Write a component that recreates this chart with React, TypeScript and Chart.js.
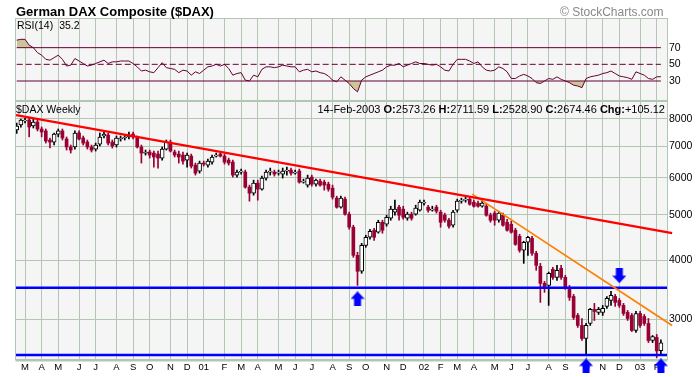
import React, { useEffect, useRef } from "react";
import { Chart, registerables } from "chart.js";

Chart.register(...registerables);

// ---------- data (weekly bars, index 0 = week of 21-Feb-2000, 155 = week of 10-Feb-2003) ----------
const opens = [
  7580, 7768, 7925, 7961, 7730, 7884, 7617, 7545, 7217, 7145,
  7430, 7545, 7253, 6975, 6975, 7470, 7290, 7145, 6975, 6905,
  7076, 7360, 7396, 7145, 7042, 7253, 7290, 7325, 7430, 7290,
  6975, 6771, 6805, 6771, 6738, 6607, 6905, 7145, 6805, 6738,
  6705, 6542, 6672, 6384, 6199, 6447, 6384, 6478, 6672, 6740,
  6672, 6542, 6478, 6078, 6168, 6168, 5730, 5565, 5843, 5674,
  5990, 6168, 6168, 6138, 6108, 6199, 6229, 6138, 6199, 5873,
  5787, 6018, 5815, 5900, 5873, 5815, 5702, 5430, 5194, 5403,
  5020, 4710, 4104, 3795, 4310, 4483, 4640, 4595, 4825, 4778,
  4920, 5070, 5194, 5145, 4920, 5020, 5020, 5118, 5297, 5194,
  5118, 5194, 5070, 4994, 4873, 4755, 5118, 5350, 5376, 5403,
  5323, 5297, 5219, 5219, 4994, 5045, 4873, 4994, 4825, 4778,
  4640, 4505, 4206, 4374, 4461, 4145, 3888, 3577, 3542, 3832,
  3684, 3851, 3684, 3508, 3355, 3057, 2911, 2731, 2940, 3149,
  3103, 3103, 3196, 3291, 3355, 3291, 3211, 3103, 3057, 2840,
  3087, 3042, 2940, 2704, 2745, 2573.26,
];
const highs = [
  7845, 8000, 8040, 8040, 8000, 8000, 7692, 7617, 7290, 7470,
  7617, 7617, 7325, 7042, 7545, 7545, 7360, 7217, 7042, 7110,
  7470, 7506, 7470, 7217, 7360, 7360, 7396, 7506, 7506, 7360,
  7042, 6871, 6871, 6837, 6837, 6975, 7217, 7217, 6871, 6837,
  6805, 6771, 6738, 6447, 6510, 6510, 6575, 6705, 6771, 6771,
  6738, 6607, 6542, 6229, 6260, 6229, 5787, 5930, 5930, 6048,
  6229, 6291, 6229, 6229, 6291, 6322, 6291, 6229, 6260, 5960,
  6078, 6078, 5960, 5960, 5930, 5873, 5787, 5482, 5482, 5456,
  5070, 4755, 4166, 4353, 4527, 4663, 4686, 4873, 4873, 4994,
  5219, 5376, 5245, 5219, 5070, 5070, 5245, 5376, 5376, 5245,
  5219, 5245, 5118, 5045, 4920, 5118, 5403, 5430, 5456, 5456,
  5376, 5350, 5376, 5270, 5045, 5094, 5094, 5045, 4897, 4849,
  4686, 4550, 4396, 4505, 4505, 4186, 3945, 3612, 3780, 3870,
  3907, 3907, 3720, 3542, 3389, 3087, 3012, 2940, 3165, 3243,
  3180, 3211, 3355, 3442, 3389, 3323, 3243, 3133, 3087, 3118,
  3118, 3072, 3012, 2771, 2785, 2711.59,
];
const lows = [
  7455, 7690, 7845, 7330, 7655, 7545, 7330, 7110, 6940, 7042,
  7330, 7217, 6871, 6771, 6905, 7217, 7042, 6905, 6805, 6837,
  7008, 7290, 7042, 6940, 6975, 7180, 7217, 7253, 7253, 6940,
  6447, 6705, 6607, 6322, 6291, 6542, 6871, 6805, 6640, 6447,
  6415, 6322, 6291, 6078, 6138, 6353, 6322, 6415, 6640, 6640,
  6415, 6384, 6018, 6018, 6108, 5702, 5350, 5509, 5376, 5646,
  5930, 6078, 6048, 6078, 5990, 6078, 6078, 6108, 5843, 5843,
  5730, 5758, 5758, 5758, 5646, 5618, 5403, 5170, 5170, 4994,
  4662, 4064, 3542, 3758, 4268, 4440, 4417, 4573, 4573, 4733,
  4873, 4994, 4873, 4897, 4873, 4873, 4994, 5094, 5245, 5070,
  5094, 5045, 4710, 4825, 4686, 4710, 5070, 5297, 5323, 5245,
  5194, 5194, 5194, 4970, 4825, 4755, 4825, 4733, 4617, 4573,
  4310, 4166, 3945, 4104, 4104, 3813, 3259, 3423, 3211, 3648,
  3630, 3648, 3473, 3291, 2998, 2883, 2704, 2519, 2911, 2983,
  3072, 3057, 3165, 3211, 3196, 3180, 3057, 2983, 2826, 2812,
  2883, 2911, 2677, 2677, 2487, 2528.9,
];
const closes = [
  7730, 7961, 7961, 7692, 7884, 7617, 7506, 7180, 7145, 7430,
  7545, 7290, 6975, 6871, 7470, 7253, 7110, 6975, 6871, 7042,
  7325, 7430, 7110, 7008, 7290, 7290, 7325, 7396, 7325, 6975,
  6771, 6805, 6705, 6640, 6607, 6905, 7145, 6837, 6705, 6640,
  6510, 6705, 6353, 6138, 6447, 6415, 6510, 6640, 6705, 6672,
  6478, 6447, 6078, 6168, 6199, 5730, 5565, 5843, 5674, 5990,
  6168, 6199, 6108, 6168, 6199, 6229, 6138, 6168, 5873, 5900,
  5990, 5815, 5930, 5787, 5787, 5674, 5456, 5194, 5430, 5020,
  4710, 4104, 3795, 4310, 4483, 4617, 4483, 4825, 4640, 4945,
  5145, 5145, 4994, 4945, 5020, 4920, 5170, 5323, 5323, 5118,
  5145, 5094, 4825, 4873, 4733, 5070, 5350, 5376, 5403, 5270,
  5219, 5219, 5297, 4994, 4873, 4873, 5045, 4755, 4640, 4595,
  4331, 4206, 4374, 4483, 4145, 3907, 3577, 3508, 3758, 3684,
  3813, 3684, 3508, 3339, 3027, 2911, 2731, 2911, 3149, 3118,
  3149, 3165, 3323, 3372, 3259, 3211, 3087, 3012, 2840, 3087,
  2911, 2940, 2704, 2758, 2569, 2674.46,
];
const rsi = [
  79, 80, 80, 73, 70, 64, 61, 56, 55, 58,
  61, 56, 48, 49, 57, 54, 51, 48, 49, 51,
  53, 55, 51, 53, 53, 54, 54, 54, 51, 47,
  42, 43, 41, 40, 46, 52, 46, 45, 44, 40,
  43, 42, 37, 41, 39, 43, 47, 48, 50, 48,
  50, 45, 37, 39, 40, 31, 30, 37, 35, 44,
  47, 47, 46, 47, 49, 48, 47, 47, 41, 43,
  44, 41, 42, 40, 39, 36, 31, 29, 35, 31,
  27, 21, 17, 31, 35, 37, 39, 41, 43, 47,
  49, 49, 51, 47, 49, 51, 53, 51, 51, 50,
  49, 50, 47, 43, 42, 50, 56, 56, 56, 54,
  51, 53, 47, 43, 42, 43, 47, 45, 41, 33,
  33, 36, 38, 36, 33, 28, 27, 30, 33, 32,
  35, 32, 30, 28, 25, 24, 22, 33, 35, 36,
  37, 39, 40, 42, 39, 36, 35, 34, 32, 41,
  39, 37, 33, 32, 35, 35.2,
];

// month grid (index of first week of each month) and its labels
const monthTickIdx = [2, 6, 10, 15, 19, 24, 28, 32, 37, 41, 45, 50, 54, 58, 63, 67, 71, 76, 80, 84, 89, 93, 98, 102, 106, 110, 115, 119, 123, 128, 132, 137, 141, 145, 150, 154];
const monthTickLabels = ["M", "A", "M", "J", "J", "A", "S", "O", "N", "D", "01", "F", "M", "A", "M", "J", "J", "A", "S", "O", "N", "D", "02", "F", "M", "A", "M", "J", "J", "A", "S", "O", "N", "D", "03", "F"];

const priceTicks = [3000, 4000, 5000, 6000, 7000, 8000];
const rsiTicks = [30, 50, 70];
const rsiLevels = [70, 50, 30];

// trend lines / support levels / arrows (week index, price)
const redTrendX = [-0.17, 157.7];
const redTrendY = [8150, 4573];
const orangeTrendX = [109.6, 157.7];
const orangeTrendY = [5537, 2911];
const supportLevels = [3500, 2520];
const upArrowX = [82, 137, 155];
const upArrowY = [3316, 2387, 2387];
const downArrowX = [145];
const downArrowY = [3715];

// ---------- styling ----------
const FONT = "'Liberation Sans', Arial, Helvetica, sans-serif";
const GRID = "#b2c6b2";
const PLOT_BG = "#f5f5f5";
const MAROON = "#990033";
const RSI_COLOR = "#660033";
const TAN = "#cbc597";
const X_MIN = -0.17;
const X_MAX = 156.47;
const PRICE_MIN = 2470;
const PRICE_MAX = 8694;
const RSI_MIN = 7.2;
const RSI_MAX = 104.4;

const makePanelPlugin = (thickBottom: boolean) => ({
  id: "panelBg",
  beforeDraw(chart: any) {
    const { ctx, chartArea: a } = chart;
    ctx.save();
    ctx.fillStyle = PLOT_BG;
    ctx.fillRect(a.left, a.top, a.right - a.left, a.bottom - a.top);
    ctx.restore();
  },
  beforeDatasetsDraw(chart: any) {
    const { ctx, chartArea: a } = chart;
    ctx.save();
    ctx.strokeStyle = GRID;
    ctx.lineWidth = 1;
    const l = Math.round(a.left) - 0.5;
    const t = Math.round(a.top) - 0.5;
    const w = Math.round(a.right - a.left) + 1;
    const h = Math.round(a.bottom - a.top) + 1;
    ctx.strokeRect(l, t, w, h);
    if (thickBottom) {
      ctx.lineWidth = 2;
      ctx.beginPath();
      ctx.moveTo(l, t + h + 1);
      ctx.lineTo(l + w, t + h + 1);
      ctx.stroke();
    }
    ctx.restore();
  },
});

function makeArrow(up: boolean) {
  const c = document.createElement("canvas");
  c.width = 14;
  c.height = 15;
  const g = c.getContext("2d")!;
  g.fillStyle = "#0000ff";
  g.beginPath();
  if (up) {
    g.moveTo(7, 0); g.lineTo(14, 7.5); g.lineTo(10.5, 7.5); g.lineTo(10.5, 15);
    g.lineTo(3.5, 15); g.lineTo(3.5, 7.5); g.lineTo(0, 7.5);
  } else {
    g.moveTo(7, 15); g.lineTo(14, 7.5); g.lineTo(10.5, 7.5); g.lineTo(10.5, 0);
    g.lineTo(3.5, 0); g.lineTo(3.5, 7.5); g.lineTo(0, 7.5);
  }
  g.closePath();
  g.fill();
  return c;
}

const monthAxis = (showLabels: boolean) => ({
  type: "linear" as const,
  min: X_MIN,
  max: X_MAX,
  offset: false,
  afterBuildTicks: (s: any) => {
    s.ticks = monthTickIdx.map((v) => ({ value: v }));
  },
  afterFit: (s: any) => {
    s.height = showLabels ? 18 : 0;
  },
  grid: { color: GRID, lineWidth: 1, drawTicks: false, offset: false },
  border: { display: false },
  ticks: {
    display: showLabels,
    autoSkip: false,
    maxRotation: 0,
    minRotation: 0,
    padding: 3,
    color: "#000",
    font: { family: FONT, size: 9.5 },
    callback: (_v: any, i: number) => monthTickLabels[i],
  },
});

export default function App() {
  const rsiRef = useRef<HTMLCanvasElement>(null);
  const mainRef = useRef<HTMLCanvasElement>(null);

  useEffect(() => {
    const idx = opens.map((_, i) => i);
    const isUp = (i: number) => closes[i] >= opens[i];
    const lineAcross = (v: number, x0: number, x1: number) => [
      { x: x0, y: v },
      { x: x1, y: v },
    ];

    const rsiChart = new Chart(rsiRef.current!, {
      type: "line",
      data: {
        datasets: [
          ...rsiLevels.map((lv) => ({
            type: "line" as const,
            data: lineAcross(lv, 0, 155),
            borderColor: RSI_COLOR,
            borderWidth: 1,
            borderDash: lv === 50 ? [6, 3] : [],
            pointRadius: 0,
            fill: false,
            order: 0,
          })),
          {
            type: "line" as const,
            data: idx.map((i) => ({ x: i, y: rsi[i] })),
            borderColor: RSI_COLOR,
            borderWidth: 1,
            pointRadius: 0,
            tension: 0,
            fill: { target: { value: 70 }, above: TAN, below: "rgba(0,0,0,0)" },
            order: 1,
          },
          {
            type: "line" as const,
            data: idx.map((i) => ({ x: i, y: rsi[i] })),
            borderColor: "rgba(0,0,0,0)",
            borderWidth: 0,
            pointRadius: 0,
            tension: 0,
            fill: { target: { value: 30 }, above: "rgba(0,0,0,0)", below: TAN },
            order: 2,
          },
        ],
      },
      options: {
        responsive: false,
        animation: false,
        devicePixelRatio: 1,
        layout: { padding: { top: 19, bottom: 277, left: 16, right: 0 } },
        plugins: { legend: { display: false }, tooltip: { enabled: false } },
        events: [],
        scales: {
          x: monthAxis(false),
          y: {
            type: "linear",
            position: "right",
            min: RSI_MIN,
            max: RSI_MAX,
            afterBuildTicks: (s: any) => {
              s.ticks = rsiTicks.map((v) => ({ value: v }));
            },
            afterFit: (s: any) => {
              s.width = 30;
            },
            grid: { drawOnChartArea: false, drawTicks: false },
            border: { display: false },
            ticks: {
              padding: 2,
              color: "#000",
              font: { family: FONT, size: 10.5 },
              callback: (v: any) => String(v),
            },
          },
        },
      } as any,
      plugins: [makePanelPlugin(false)],
    });

    const upArrow = makeArrow(true);
    const downArrow = makeArrow(false);

    const mainChart = new Chart(mainRef.current!, {
      type: "bar",
      data: {
        datasets: [
          {
            type: "scatter" as const,
            data: upArrowX.map((x, k) => ({ x, y: upArrowY[k] })),
            pointStyle: upArrow as any,
            pointRadius: 10,
            clip: false as any,
            order: 0,
          },
          {
            type: "scatter" as const,
            data: downArrowX.map((x, k) => ({ x, y: downArrowY[k] })),
            pointStyle: downArrow as any,
            pointRadius: 10,
            clip: false as any,
            order: 0,
          },
          {
            type: "line" as const,
            data: redTrendX.map((x, k) => ({ x, y: redTrendY[k] })),
            borderColor: "#ff0000",
            borderWidth: 2.2,
            pointRadius: 0,
            clip: { left: 0, top: 0, right: 8, bottom: 0 } as any,
            order: 1,
          },
          {
            type: "line" as const,
            data: orangeTrendX.map((x, k) => ({ x, y: orangeTrendY[k] })),
            borderColor: "#ff7f00",
            borderWidth: 1.7,
            pointRadius: 0,
            clip: { left: 0, top: 0, right: 8, bottom: 0 } as any,
            order: 1,
          },
          ...supportLevels.map((lv) => ({
            type: "line" as const,
            data: lineAcross(lv, X_MIN, X_MAX),
            borderColor: "#0000ff",
            borderWidth: 2.5,
            pointRadius: 0,
            order: 2,
          })),
          {
            type: "bar" as const,
            data: idx.filter(isUp).map((i) => ({ x: i, y: [opens[i], closes[i]] })),
            backgroundColor: "#ffffff",
            borderColor: "#000000",
            borderWidth: 1,
            borderSkipped: false,
            barThickness: 4,
            grouped: false,
            order: 3,
          },
          {
            type: "bar" as const,
            data: idx.filter((i) => !isUp(i)).map((i) => ({ x: i, y: [opens[i], closes[i]] })),
            backgroundColor: MAROON,
            borderWidth: 0,
            barThickness: 3,
            grouped: false,
            order: 3,
          },
          {
            type: "bar" as const,
            data: idx.map((i) => ({ x: i, y: [lows[i], highs[i]] })),
            backgroundColor: idx.map((i) => (isUp(i) ? "#000000" : MAROON)),
            borderWidth: 0,
            barThickness: 1,
            grouped: false,
            order: 4,
          },
        ],
      } as any,
      options: {
        responsive: false,
        animation: false,
        devicePixelRatio: 1,
        layout: { padding: { top: 102, bottom: 0, left: 16, right: 0 } },
        plugins: { legend: { display: false }, tooltip: { enabled: false } },
        events: [],
        scales: {
          x: monthAxis(true),
          y: {
            type: "logarithmic",
            position: "right",
            min: PRICE_MIN,
            max: PRICE_MAX,
            afterBuildTicks: (s: any) => {
              s.ticks = priceTicks.map((v) => ({ value: v }));
            },
            afterFit: (s: any) => {
              s.width = 30;
            },
            grid: { color: GRID, lineWidth: 1, drawTicks: false },
            border: { display: false },
            ticks: {
              padding: 2,
              color: "#000",
              font: { family: FONT, size: 10.5 },
              callback: (v: any) => String(v),
            },
          },
        },
      } as any,
      plugins: [makePanelPlugin(true)],
    });

    return () => {
      rsiChart.destroy();
      mainChart.destroy();
    };
  }, []);

  const abs = (extra: React.CSSProperties): React.CSSProperties => ({
    position: "absolute",
    whiteSpace: "nowrap",
    lineHeight: 1,
    fontFamily: FONT,
    color: "#000",
    ...extra,
  });

  return (
    <div style={{ position: "fixed", left: 0, top: 0, width: 697, height: 377, background: "#fff", overflow: "hidden" }}>
      <canvas ref={rsiRef} width={697} height={377} style={{ position: "absolute", left: 0, top: 0, width: 697, height: 377 }} />
      <canvas ref={mainRef} width={697} height={377} style={{ position: "absolute", left: 0, top: 0, width: 697, height: 377 }} />
      <div style={abs({ left: 16, top: 5, fontSize: 13, fontWeight: "bold" })}>German DAX Composite ($DAX)</div>
      <div style={abs({ left: 560, top: 5.8, fontSize: 12, color: "#888" })}>© StockCharts.com</div>
      <div style={abs({ left: 17, top: 19.6, fontSize: 10.5 })}>
        RSI(14)<span style={{ marginLeft: 6 }}>35.2</span>
      </div>
      <div style={abs({ left: 16, top: 104.4, fontSize: 10.5 })}>$DAX Weekly</div>
      <div style={abs({ right: 32, top: 104.2, fontSize: 11 })}>
        14-Feb-2003 <b>O:</b>2573.26 <b>H:</b>2711.59 <b>L:</b>2528.90 <b>C:</b>2674.46 <b>Chg:</b>+105.12
      </div>
    </div>
  );
}
